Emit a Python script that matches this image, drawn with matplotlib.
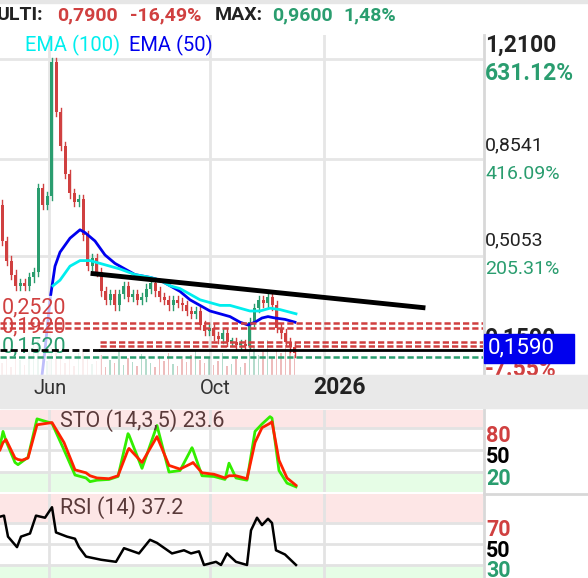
import matplotlib
matplotlib.use("Agg")
import matplotlib.pyplot as plt
from matplotlib.patches import Rectangle
import numpy as np

plt.rcParams['font.family'] = ['Roboto', 'DejaVu Sans']

W, H = 588, 578
RED = '#d04040'
GREEN = '#2a9d6f'

# candle closes (one every 4.5 px of chart width, starting at x=2)
closes = [0.56, 0.49, 0.44, 0.40, 0.41, 0.40, 0.43, 0.45, 0.75, 0.69,
          0.72, 1.20, 1.02, 0.90, 0.80, 0.73, 0.70, 0.71, 0.58, 0.47,
          0.50, 0.45, 0.38, 0.35, 0.37, 0.33, 0.37, 0.40, 0.36, 0.37,
          0.35, 0.36, 0.39, 0.41, 0.38, 0.36, 0.35, 0.33, 0.35, 0.34,
          0.33, 0.31, 0.30, 0.31, 0.26, 0.24, 0.25, 0.22, 0.21, 0.23,
          0.20, 0.20, 0.19, 0.19, 0.185, 0.27, 0.32, 0.35, 0.34, 0.36,
          0.33, 0.25, 0.23, 0.20, 0.18, 0.159]
first_open = 0.69
volume = [12, 18, 8, 22, 15, 10, 25, 30, 35, 20, 14, 28, 33, 19, 12, 16,
          9, 22, 26, 18, 11, 14, 20, 8, 15, 12, 24, 10, 17, 13, 9, 21,
          16, 12, 8, 19, 14, 22, 11, 9, 16, 13, 20, 25, 15, 12, 18, 10,
          14, 22, 9, 11, 16, 8, 12, 30, 28, 20, 24, 35, 18, 26, 22, 30,
          25, 20]

ema50_x = [42, 45, 50, 55, 60, 70, 80, 85, 95, 105, 115, 125, 135, 150, 160,
           170, 180, 190, 200, 210, 220, 230, 240, 248, 255, 262, 268, 275, 285, 295]
ema50 = [0.08, 0.17, 0.35, 0.47, 0.52, 0.57, 0.60, 0.59, 0.56, 0.51, 0.48,
         0.46, 0.44, 0.43, 0.42, 0.40, 0.38, 0.35, 0.33, 0.31, 0.30, 0.29,
         0.27, 0.26, 0.27, 0.285, 0.29, 0.285, 0.28, 0.27]
ema100_x = [53, 60, 70, 80, 90, 100, 110, 120, 135, 150, 160, 170, 180, 190,
            200, 210, 220, 230, 240, 250, 260, 270, 280, 296]
ema100 = [0.40, 0.42, 0.47, 0.49, 0.49, 0.48, 0.47, 0.46, 0.44, 0.43, 0.42,
          0.40, 0.39, 0.37, 0.35, 0.34, 0.33, 0.33, 0.32, 0.31, 0.31, 0.32,
          0.315, 0.30]

sto_x = [0, 3, 6, 15, 18, 22, 28, 37, 52, 64, 75, 86, 90, 97, 109, 118, 128,
         129, 142, 157, 169, 180, 192, 193, 202, 214, 225, 229, 236, 247, 255,
         262, 270, 272, 279, 287, 296]
sto_k = [55, 75, 62, 33, 30, 34, 40, 92, 86, 50, 16, 12, 7, 9, 10, 14, 72,
         70, 25, 83, 20, 22, 53, 50, 15, 14, 10, 32, 12, 9, 75, 85, 95, 93,
         22, 5, 0]
sto_d = [50, 60, 64, 39, 37, 36, 39, 84, 87, 60, 23, 19, 15, 12, 11, 15, 50,
         52, 33, 68, 29, 24, 32, 33, 19, 17, 12, 15, 15, 11, 60, 80, 86, 88,
         36, 12, 2]

rsi_x = [0, 4, 8, 17, 21, 30, 36, 45, 52, 56, 67, 75, 79, 86, 101, 116, 124,
         139, 150, 157, 172, 184, 191, 199, 204, 216, 221, 227, 236, 247, 251,
         257, 262, 268, 272, 276, 285, 296]
rsi = [76, 77, 57, 47, 57, 60, 77, 75, 85, 61, 57, 55, 47, 38, 35, 33, 46,
       41, 54, 51, 41, 44, 41, 43, 30, 33, 30, 41, 33, 30, 63, 75, 68, 74,
       70, 44, 40, 30]

ytick_vals = [1.2100, 0.8541, 0.5053]
ytick_pct = ['631.12%', '416.09%', '205.31%']
xtick_pos = [49, 210, 324]
DASH = (0, (2.5, 1.2))


def ax_px(top, bottom, left=0, right=483):
    return fig.add_axes([left / W, 1 - bottom / H, (right - left) / W, (bottom - top) / H])


def ftext(x, y, s, **kw):
    fig.text(x / W, 1 - y / H, s, va='center', **kw)


fig = plt.figure(figsize=(W / 100, H / 100), dpi=100)
fig.patch.set_facecolor('white')
fig.add_artist(Rectangle((0, 1 - 3 / H), 1, 3 / H, color='#e6e6e6', transform=fig.transFigure))

# ---- main price panel
ax = ax_px(35, 375)
ax.set_xlim(0, 483)
ax.set_ylim(0.0814, 1.2957)
for v in ytick_vals:
    ax.axhline(v, color='#e6e6e6', lw=2, zorder=0)
for xp in xtick_pos:
    ax.axvline(xp, color='#e6e6e6', lw=2, zorder=0)

xs = 2 + 4.5 * np.arange(len(closes))
opens = [first_open] + closes[:-1]
vscale = 0.0036
for x, o, c, vol in zip(xs, opens, closes, volume):
    col = GREEN if c >= o else RED
    ax.bar(x, vol * vscale, bottom=0.0814, width=1.2, color=col, alpha=0.35, zorder=1)
    ax.bar(x, max(abs(c - o), 0.006), bottom=min(o, c), width=3, color=col, zorder=2)
    ax.plot([x, x], [min(o, c) - 0.015, max(o, c) + 0.015], color=col, lw=1, zorder=2)

ax.plot(ema50_x, ema50, color='#0000ee', lw=2, zorder=3)
ax.plot(ema100_x, ema100, color='#00eeee', lw=2, zorder=3)
ax.add_patch(Rectangle((0, 0.0814), 100, 0.283, color='white', alpha=0.75, zorder=4))
ax.text(2, 0.321, '0,2520', color=RED, fontsize=15.5, va='center', zorder=5)
ax.text(2, 0.252, '0,1920', color=RED, fontsize=15.5, va='center', zorder=5)
ax.text(2, 0.180, '0,1520', color=GREEN, fontsize=15.5, va='center', zorder=5)
for lv in [0.267, 0.249]:
    ax.plot([0, 483], [lv, lv], color=RED, lw=1.8, ls=DASH, zorder=6)
for lv in [0.199, 0.186]:
    ax.plot([100, 483], [lv, lv], color=RED, lw=1.8, ls=DASH, zorder=6)
ax.plot([100, 483], [0.172, 0.172], color='black', lw=2, zorder=6)
ax.plot([0, 100], [0.172, 0.172], color='black', lw=2, ls=DASH, zorder=6)
ax.plot([0, 483], [0.147, 0.147], color=GREEN, lw=1.8, ls=DASH, zorder=6)
ax.plot([93, 423], [0.4435, 0.322], color='black', lw=3.5, zorder=7)
ax.text(25, 1.258, 'EMA (100)', color='#00eeee', fontsize=14.5, va='center')
ax.text(129, 1.258, 'EMA (50)', color='#0000ee', fontsize=14.5, va='center')
ax.axis('off')

# ---- STO panel
sx = ax_px(410, 492)
sx.set_xlim(0, 483)
sx.set_ylim(-7, 104)
sx.axhspan(80, 104, color='#fde6e6', zorder=0)
sx.axhspan(-7, 20, color='#e6fde6', zorder=0)
for lv in [80, 50, 20]:
    sx.axhline(lv, color='#e3e3e3', lw=2, zorder=0)
for xp in xtick_pos:
    sx.axvline(xp, color='#e3e3e3', lw=2, zorder=0)
sx.plot(sto_x, sto_k, color='#33ee00', lw=2)
sx.plot(sto_x, sto_d, color='#ff2200', lw=2)
sx.text(60, 90, 'STO (14,3,5) 23.6', color='#5a3a3a', fontsize=15.5, va='center')
sx.axis('off')

# ---- RSI panel
rx = ax_px(494, 578)
rx.set_xlim(0, 483)
rx.set_ylim(17.6, 97.6)
rx.axhspan(70, 97.6, color='#fde6e6', zorder=0)
rx.axhspan(17.6, 30, color='#e6fde6', zorder=0)
for lv in [70, 50, 30]:
    rx.axhline(lv, color='#e3e3e3', lw=2, zorder=0)
for xp in xtick_pos:
    rx.axvline(xp, color='#e3e3e3', lw=2, zorder=0)
rx.plot(rsi_x, rsi, color='black', lw=1.8)
rx.text(60, 85, 'RSI (14) 37.2', color='#5a3a3a', fontsize=15.5, va='center')
rx.axis('off')

# right axis separators
fig.add_artist(plt.Line2D([484 / W] * 2, [1 - 35 / H, 1 - 375 / H], color='#d8d8d8', lw=2))
fig.add_artist(plt.Line2D([484 / W] * 2, [1 - 408 / H, 0], color='#d8d8d8', lw=2))
fig.add_artist(plt.Line2D([484 / W, 1], [1 - 494 / H] * 2, color='#d8d8d8', lw=2))

# header
hk = dict(fontsize=14, fontweight='bold')
ftext(-3, 15, 'ULTI:', color='#222222', **hk)
ftext(57, 15, '0,7900', color=RED, **hk)
ftext(130, 15, '-16,49%', color=RED, **hk)
ftext(215, 15, 'MAX:', color='#222222', **hk)
ftext(272, 15, '0,9600', color=GREEN, **hk)
ftext(343, 15, '1,48%', color=GREEN, **hk)

# right price labels
ys = [45, 145, 240]
for i, (v, p) in enumerate(zip(ytick_vals, ytick_pct)):
    wgt = 'bold' if i == 0 else 'normal'
    fs = 16.5 if i == 0 else 14
    ftext(485, ys[i], f'{v:.4f}'.replace('.', ','), color='#222222', fontsize=fs, fontweight=wgt)
    ftext(485, ys[i] + 29, p, color=GREEN, fontsize=fs, fontweight=wgt)
ftext(485, 338, '0,1590', color='#222222', fontsize=16.5, fontweight='bold')
ftext(485, 370, '-7.55%', color=RED, fontsize=16.5, fontweight='bold')
fig.add_artist(Rectangle((484 / W, 1 - 363 / H), 90 / W, 29 / H, color='#0000ee',
                         transform=fig.transFigure, zorder=5))
fig.text(488 / W, 1 - 348 / H, '0,1590', color='white', fontsize=16, va='center', zorder=6)

# date band drawn over the clipped labels
fig.add_artist(Rectangle((0, 1 - 400 / H), 1, 25 / H, color='#e9e9e9', transform=fig.transFigure, zorder=5))
fig.add_artist(Rectangle((0, 1 - 408 / H), 1, 8 / H, color='#e9e9e9', transform=fig.transFigure, zorder=5))

# x tick labels
tk = dict(va='center', ha='center', zorder=6)
fig.text(50 / W, 1 - 388 / H, 'Jun', color='#333333', fontsize=14.5, **tk)
fig.text(215 / W, 1 - 388 / H, 'Oct', color='#333333', fontsize=14.5, **tk)
fig.text(340 / W, 1 - 388 / H, '2026', color='#222222', fontsize=16.5, fontweight='bold', **tk)

# oscillator labels
ok = dict(fontsize=15.5, fontweight='bold')
ftext(486, 436, '80', color=RED, **ok)
ftext(486, 457, '50', color='black', **ok)
ftext(486, 479, '20', color=GREEN, **ok)
ftext(486, 530, '70', color=RED, **ok)
ftext(486, 551, '50', color='black', **ok)
ftext(486, 571, '30', color=GREEN, **ok)

fig.savefig('out.png', dpi=100)
